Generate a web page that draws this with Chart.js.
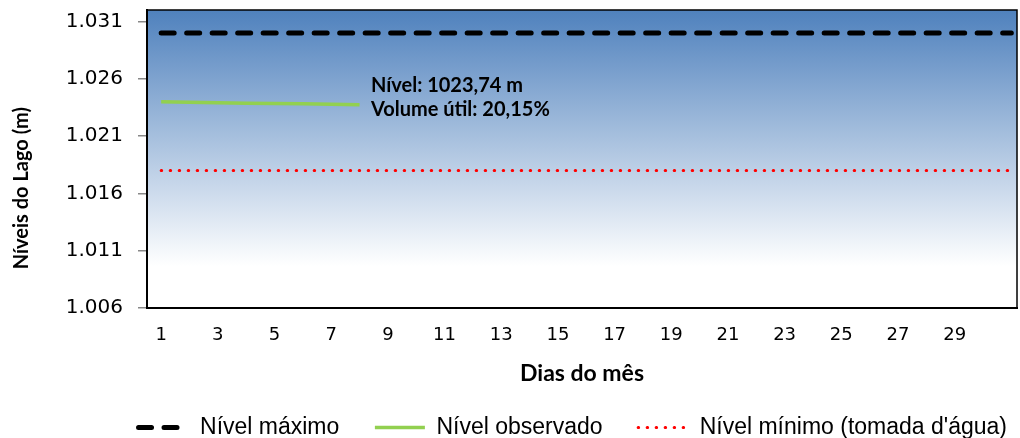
<!DOCTYPE html>
<html>
<head>
<meta charset="utf-8">
<script src="https://cdn.jsdelivr.net/npm/chart.js@4"></script>
<style>
  html, body { margin: 0; padding: 0; background: #fff; overflow: hidden; }
  #wrap { width: 1020px; height: 449px; }
</style>
</head>
<body>
<div id="wrap"><canvas id="lakeChart"></canvas></div>
<script>
// dias e niveis
const limitDays = [1, 31]
const maxLevel = [1030, 1030]
const minLevel = [1018, 1018]
const observedDays = [1, 2, 3, 4, 5, 6, 7, 8]
const observedLevel = [1024.0, 1023.95, 1023.9, 1023.87, 1023.84, 1023.81, 1023.78, 1023.74]
const xTickLabels = [1, 3, 5, 7, 9, 11, 13, 15, 17, 19, 21, 23, 25, 27, 29]
const yTickLabels = [1006, 1011, 1016, 1021, 1026, 1031]
const infoLines = ['Nível: 1023,74 m', 'Volume útil: 20,15%']

const toPoints = (xs, ys) => xs.map((x, i) => ({ x: x, y: ys[i] }))

const background = {
    id: 'background',
    beforeDraw(chart) {
        const { ctx, chartArea: a } = chart
        const g = ctx.createLinearGradient(0, a.top, 0, a.bottom)
        g.addColorStop(0, '#4f81bd')
        g.addColorStop(0.86, '#ffffff')
        g.addColorStop(1, '#ffffff')
        ctx.save()
        ctx.fillStyle = g
        ctx.fillRect(a.left, a.top, a.right - a.left, a.bottom - a.top)
        ctx.restore()
    },
    afterDatasetsDraw(chart) {
        const { ctx, chartArea: a } = chart
        ctx.save()
        ctx.strokeStyle = '#000'
        ctx.lineWidth = 1.5
        ctx.strokeRect(a.left, a.top, a.right - a.left, a.bottom - a.top)
        ctx.font = 'bold 20px Lato'
        ctx.fillStyle = '#000'
        ctx.textBaseline = 'middle'
        const x = chart.scales.x.getPixelForValue(8.4)
        const y = chart.scales.y.getPixelForValue(1025.4)
        ctx.fillText(infoLines[0], x, y)
        ctx.fillText(infoLines[1], x, y + 24)
        ctx.restore()
    }
}

new Chart(document.getElementById('lakeChart'), {
    type: 'line',
    data: {
        datasets: [{
            label: 'Nível máximo',
            data: toPoints(limitDays, maxLevel),
            borderColor: '#000',
            borderWidth: 5,
            borderDash: [13, 12.5],
            borderCapStyle: 'round',
            pointRadius: 0
        }, {
            label: 'Nível observado',
            data: toPoints(observedDays, observedLevel),
            borderColor: '#92d050',
            borderWidth: 3.5,
            pointRadius: 0
        }, {
            label: "Nível mínimo (tomada d'água)",
            data: toPoints(limitDays, minLevel),
            borderColor: '#ff0000',
            borderWidth: 3,
            borderDash: [0.5, 8.5],
            borderCapStyle: 'round',
            pointRadius: 0
        }]
    },
    options: {
        responsive: true,
        maintainAspectRatio: false,
        animation: false,
        layout: { padding: { left: 0, right: 3, top: 10, bottom: 0 } },
        plugins: {
            tooltip: { enabled: false },
            legend: {
                position: 'bottom',
                align: 'end',
                labels: {
                    usePointStyle: true,
                    pointStyle: 'line',
                    pointStyleWidth: 50,
                    padding: 10,
                    color: '#000',
                    font: { family: 'Liberation Sans', size: 23 },
                    generateLabels(chart) {
                        const items = Chart.defaults.plugins.legend.labels.generateLabels(chart)
                        items.forEach((it, i) => {
                            const ds = chart.data.datasets[i]
                            it.pointStyle = 'line'
                            it.lineDash = ds.borderDash || []
                            it.lineCap = ds.borderCapStyle || 'butt'
                            it.lineWidth = ds.borderWidth
                            it.strokeStyle = ds.borderColor
                            if (i < items.length - 1) it.text = it.text + '    '
                        })
                        return items
                    }
                }
            }
        },
        scales: {
            x: {
                type: 'linear',
                min: 0.5,
                max: 31.2,
                afterBuildTicks(scale) {
                    scale.ticks = xTickLabels.map(v => ({ value: v }))
                },
                afterFit(scale) {
                    scale.height = 98
                    scale.paddingLeft = 0
                    scale.paddingRight = 0
                },
                grid: { display: false, drawTicks: false },
                border: { display: true, color: '#000', width: 2 },
                ticks: {
                    autoSkip: false,
                    maxRotation: 0,
                    padding: 17,
                    color: '#000',
                    font: { family: 'DejaVu Sans', size: 18 }
                },
                title: {
                    display: true,
                    text: 'Dias do mês',
                    color: '#000',
                    padding: { top: 0, bottom: 19 },
                    font: { family: 'Lato', weight: 'bold', size: 23 }
                }
            },
            y: {
                min: 1006,
                max: 1032,
                afterBuildTicks(scale) {
                    scale.ticks = yTickLabels.map(v => ({ value: v }))
                },
                afterFit(scale) {
                    scale.width = 147
                    scale.paddingTop = 0
                    scale.paddingBottom = 0
                },
                grid: { drawOnChartArea: false, tickLength: 9, color: '#888', lineWidth: 1.5 },
                border: { display: true, color: '#000', width: 2 },
                ticks: {
                    padding: 15,
                    color: '#000',
                    font: { family: 'DejaVu Sans', size: 20 },
                    callback: v => Math.floor(v / 1000) + '.' + String(v % 1000).padStart(3, '0')
                },
                title: {
                    display: true,
                    text: 'Níveis do Lago (m)' + '            ',
                    color: '#000',
                    padding: { top: 10, bottom: 0 },
                    font: { family: 'Lato', weight: 'bold', size: 20 }
                }
            }
        }
    },
    plugins: [background]
})
</script>
</body>
</html>
